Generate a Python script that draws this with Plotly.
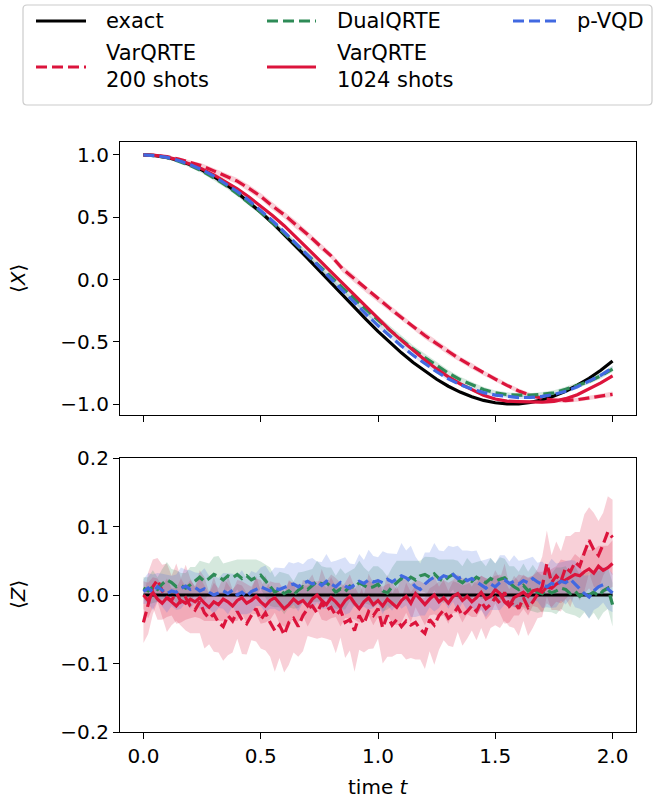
import numpy as np
import plotly.graph_objects as go

# ---------------- data ----------------
# <X>(t) on a 0.05 grid
T_X = [0.00, 0.05, 0.10, 0.15, 0.20, 0.25, 0.30, 0.35, 0.40, 0.45,
       0.50, 0.55, 0.60, 0.65, 0.70, 0.75, 0.80, 0.85, 0.90, 0.95,
       1.00, 1.05, 1.10, 1.15, 1.20, 1.25, 1.30, 1.35, 1.40, 1.45,
       1.50, 1.55, 1.60, 1.65, 1.70, 1.75, 1.80, 1.85, 1.90, 1.95,
       2.00]

X_EXACT = [1.000, 0.995, 0.980, 0.955, 0.921, 0.878, 0.825, 0.765, 0.697, 0.622,
           0.540, 0.454, 0.362, 0.267, 0.170, 0.071, -0.029, -0.129, -0.227, -0.323,
           -0.416, -0.505, -0.589, -0.666, -0.737, -0.801, -0.857, -0.904, -0.942, -0.971,
           -0.990, -0.999, -0.998, -0.987, -0.967, -0.936, -0.897, -0.849, -0.793, -0.729,
           -0.654]

X_VAR200 = [1.000, 0.997, 0.986, 0.967, 0.940, 0.912, 0.872, 0.831, 0.790, 0.731,
            0.668, 0.590, 0.520, 0.440, 0.362, 0.275, 0.190, 0.083, 0.005, -0.080,
            -0.155, -0.230, -0.305, -0.380, -0.450, -0.515, -0.580, -0.640, -0.695, -0.750,
            -0.800, -0.850, -0.895, -0.930, -0.955, -0.968, -0.972, -0.965, -0.950, -0.935,
            -0.922]

X_DUAL = [1.000, 0.995, 0.978, 0.950, 0.914, 0.870, 0.817, 0.757, 0.689, 0.616,
          0.540, 0.458, 0.372, 0.287, 0.200, 0.111, 0.021, -0.069, -0.157, -0.243,
          -0.326, -0.407, -0.484, -0.559, -0.627, -0.693, -0.752, -0.804, -0.847, -0.884,
          -0.910, -0.924, -0.928, -0.929, -0.922, -0.910, -0.882, -0.849, -0.818, -0.773,
          -0.719]

X_VAR1024 = [1.000, 0.996, 0.982, 0.959, 0.926, 0.888, 0.840, 0.787, 0.727, 0.662,
             0.590, 0.514, 0.432, 0.342, 0.250, 0.156, 0.061, -0.034, -0.127, -0.223,
             -0.316, -0.405, -0.489, -0.571, -0.647, -0.718, -0.782, -0.837, -0.887, -0.930,
             -0.960, -0.977, -0.980, -0.982, -0.985, -0.978, -0.957, -0.925, -0.878, -0.830,
             -0.774]

X_PVQD = [1.000, 0.995, 0.980, 0.955, 0.921, 0.881, 0.830, 0.772, 0.707, 0.634,
          0.555, 0.472, 0.382, 0.290, 0.196, 0.101, 0.004, -0.093, -0.187, -0.280,
          -0.370, -0.455, -0.534, -0.608, -0.677, -0.741, -0.797, -0.844, -0.880, -0.908,
          -0.928, -0.941, -0.948, -0.947, -0.939, -0.923, -0.897, -0.861, -0.818, -0.769,
          -0.709]

# half-widths of the shaded spread around each <X> curve
XB_VAR200 = [0.000, 0.004, 0.008, 0.012, 0.016, 0.020, 0.022, 0.026, 0.024, 0.028,
             0.026, 0.030, 0.028, 0.032, 0.026, 0.030, 0.024, 0.028, 0.030, 0.026,
             0.028, 0.024, 0.026, 0.022, 0.028, 0.024, 0.026, 0.022, 0.024, 0.020,
             0.022, 0.018, 0.020, 0.018, 0.016, 0.020, 0.018, 0.016, 0.020, 0.018,
             0.022]
XB_DUAL = [0.000, 0.004, 0.008, 0.012, 0.014, 0.016, 0.018, 0.020, 0.020, 0.022,
           0.022, 0.024, 0.026, 0.026, 0.028, 0.030, 0.030, 0.032, 0.032, 0.034,
           0.034, 0.032, 0.034, 0.030, 0.030, 0.028, 0.026, 0.024, 0.022, 0.020,
           0.018, 0.018, 0.016, 0.016, 0.018, 0.020, 0.020, 0.022, 0.022, 0.024,
           0.024]
XB_VAR1024 = [0.000, 0.002, 0.004, 0.006, 0.008, 0.008, 0.010, 0.010, 0.012, 0.010,
              0.012, 0.012, 0.010, 0.012, 0.014, 0.012, 0.012, 0.014, 0.012, 0.014,
              0.012, 0.012, 0.014, 0.012, 0.012, 0.010, 0.012, 0.012, 0.010, 0.012,
              0.010, 0.012, 0.012, 0.014, 0.012, 0.014, 0.012, 0.014, 0.014, 0.012,
              0.014]
XB_PVQD = [0.000, 0.002, 0.004, 0.004, 0.006, 0.006, 0.008, 0.008, 0.010, 0.010,
           0.010, 0.012, 0.012, 0.012, 0.014, 0.014, 0.014, 0.016, 0.016, 0.016,
           0.016, 0.016, 0.016, 0.014, 0.014, 0.014, 0.014, 0.012, 0.012, 0.012,
           0.012, 0.012, 0.012, 0.014, 0.014, 0.014, 0.016, 0.016, 0.016, 0.016,
           0.016]

# <Z>(t) on a 0.02 grid
T_Z = [0.00, 0.02, 0.04, 0.06, 0.08, 0.10, 0.12, 0.14, 0.16, 0.18,
       0.20, 0.22, 0.24, 0.26, 0.28, 0.30, 0.32, 0.34, 0.36, 0.38,
       0.40, 0.42, 0.44, 0.46, 0.48, 0.50, 0.52, 0.54, 0.56, 0.58,
       0.60, 0.62, 0.64, 0.66, 0.68, 0.70, 0.72, 0.74, 0.76, 0.78,
       0.80, 0.82, 0.84, 0.86, 0.88, 0.90, 0.92, 0.94, 0.96, 0.98,
       1.00, 1.02, 1.04, 1.06, 1.08, 1.10, 1.12, 1.14, 1.16, 1.18,
       1.20, 1.22, 1.24, 1.26, 1.28, 1.30, 1.32, 1.34, 1.36, 1.38,
       1.40, 1.42, 1.44, 1.46, 1.48, 1.50, 1.52, 1.54, 1.56, 1.58,
       1.60, 1.62, 1.64, 1.66, 1.68, 1.70, 1.72, 1.74, 1.76, 1.78,
       1.80, 1.82, 1.84, 1.86, 1.88, 1.90, 1.92, 1.94, 1.96, 1.98,
       2.00]

T_Z_EXACT = [0.0, 2.0]
Z_EXACT = [0.0, 0.0]

Z_VAR200 = [-0.040, -0.012, 0.012, 0.022, 0.006, -0.004, -0.008, 0.004, -0.010, -0.004,
            -0.016, -0.022, -0.010, -0.026, -0.034, -0.028, -0.040, -0.046, -0.030, -0.038,
            -0.024, -0.036, -0.042, -0.030, -0.020, -0.036, -0.026, -0.040, -0.052, -0.044,
            -0.058, -0.040, -0.034, -0.046, -0.030, -0.020, -0.016, -0.026, -0.012, -0.022,
            -0.018, -0.030, -0.022, -0.040, -0.036, -0.052, -0.030, -0.042, -0.024, -0.030,
            -0.020, -0.048, -0.030, -0.044, -0.036, -0.046, -0.038, -0.044, -0.040, -0.050,
            -0.056, -0.036, -0.044, -0.030, -0.022, -0.034, -0.028, -0.018, -0.030, -0.024,
            -0.016, -0.024, -0.010, -0.020, -0.014, -0.004, -0.012, 0.004, -0.016, -0.010,
            -0.020, -0.004, -0.018, -0.010, 0.002, 0.012, 0.046, 0.018, 0.028, 0.020,
            0.040, 0.034, 0.048, 0.042, 0.062, 0.080, 0.066, 0.058, 0.074, 0.092,
            0.084]

Z_DUAL = [0.010, 0.006, 0.012, 0.008, 0.016, 0.022, 0.018, 0.012, 0.014, 0.010,
          0.015, 0.021, 0.026, 0.020, 0.024, 0.030, 0.027, 0.022, 0.028, 0.025,
          0.030, 0.024, 0.028, 0.022, 0.026, 0.029, 0.021, 0.012, 0.004, 0.008,
          0.002, 0.006, 0.000, 0.007, 0.012, 0.008, 0.014, 0.020, 0.016, 0.018,
          0.012, 0.004, 0.009, 0.005, 0.013, 0.011, 0.018, 0.014, 0.010, 0.012,
          0.016, 0.006, 0.003, 0.012, 0.018, 0.024, 0.020, 0.026, 0.022, 0.028,
          0.030, 0.026, 0.031, 0.024, 0.020, 0.026, 0.030, 0.022, 0.018, 0.024,
          0.020, 0.026, 0.022, 0.018, 0.024, 0.020, 0.023, 0.025, 0.018, 0.012,
          0.008, 0.014, 0.006, 0.010, 0.004, 0.002, 0.008, 0.003, 0.006, 0.010,
          0.008, 0.002, 0.006, -0.002, 0.003, 0.000, 0.004, -0.001, 0.006, 0.010,
          -0.014]

Z_VAR1024 = [0.000, -0.008, 0.004, -0.006, -0.012, -0.004, -0.010, -0.016, -0.008, -0.012,
             -0.006, -0.010, -0.004, -0.012, -0.018, -0.010, -0.014, -0.006, -0.010, -0.016,
             -0.008, -0.004, -0.012, -0.008, -0.002, -0.010, -0.016, -0.008, -0.004, -0.012,
             -0.020, -0.014, -0.006, -0.012, -0.008, -0.016, -0.006, 0.000, -0.008, -0.014,
             -0.004, -0.010, -0.018, -0.008, -0.002, -0.012, -0.020, -0.010, -0.004, -0.014,
             -0.008, -0.016, -0.006, -0.012, -0.018, -0.008, -0.002, -0.012, 0.002, -0.006,
             -0.014, -0.006, 0.000, -0.010, -0.004, -0.012, -0.002, 0.002, -0.008, -0.002,
             -0.010, -0.004, 0.004, -0.006, -0.002, 0.008, 0.002, -0.010, -0.016, -0.004,
             0.000, 0.004, -0.002, 0.006, 0.008, 0.004, 0.012, 0.010, 0.016, 0.020,
             0.022, 0.026, 0.030, 0.028, 0.034, 0.038, 0.032, 0.042, 0.036, 0.040,
             0.046]

Z_PVQD = [0.005, 0.010, 0.004, 0.012, 0.007, 0.002, 0.006, 0.004, 0.010, 0.013,
          0.008, 0.011, 0.006, 0.009, 0.004, 0.000, 0.003, 0.006, 0.002, 0.007,
          0.000, 0.004, -0.002, 0.005, 0.008, 0.012, 0.009, 0.006, 0.010, 0.008,
          0.011, 0.014, 0.016, 0.012, 0.017, 0.020, 0.016, 0.019, 0.014, 0.020,
          0.016, 0.012, 0.018, 0.013, 0.010, 0.015, 0.020, 0.017, 0.022, 0.019,
          0.021, 0.018, 0.023, 0.019, 0.024, 0.028, 0.025, 0.020, 0.012, 0.008,
          0.016, 0.022, 0.026, 0.023, 0.028, 0.026, 0.030, 0.024, 0.027, 0.021,
          0.024, 0.019, 0.014, 0.010, 0.016, 0.012, 0.018, 0.022, 0.017, 0.020,
          0.016, 0.021, 0.018, 0.024, 0.019, 0.015, 0.012, 0.017, 0.014, 0.020,
          0.018, 0.023, 0.016, 0.010, 0.002, -0.003, 0.006, 0.012, 0.015, 0.009,
          0.003]

# half-widths of the shaded spread around each <Z> curve
ZB_VAR200 = [0.030, 0.045, 0.040, 0.032, 0.038, 0.050, 0.036, 0.042, 0.035, 0.048,
             0.040, 0.034, 0.046, 0.052, 0.038, 0.055, 0.044, 0.050, 0.058, 0.046,
             0.040, 0.050, 0.045, 0.036, 0.048, 0.042, 0.055, 0.050, 0.060, 0.048,
             0.055, 0.062, 0.050, 0.044, 0.052, 0.040, 0.046, 0.038, 0.050, 0.042,
             0.048, 0.055, 0.040, 0.052, 0.045, 0.060, 0.050, 0.042, 0.055, 0.048,
             0.044, 0.052, 0.060, 0.046, 0.050, 0.040, 0.056, 0.048, 0.054, 0.044,
             0.052, 0.046, 0.058, 0.050, 0.044, 0.040, 0.048, 0.036, 0.044, 0.040,
             0.036, 0.042, 0.038, 0.045, 0.034, 0.040, 0.036, 0.042, 0.030, 0.038,
             0.040, 0.034, 0.042, 0.038, 0.036, 0.044, 0.048, 0.040, 0.050, 0.044,
             0.046, 0.052, 0.044, 0.050, 0.056, 0.048, 0.054, 0.050, 0.046, 0.052,
             0.055]

ZB_DUAL = [0.016, 0.020, 0.024, 0.018, 0.022, 0.026, 0.020, 0.024, 0.018, 0.022,
           0.026, 0.020, 0.024, 0.028, 0.022, 0.026, 0.030, 0.024, 0.020, 0.026,
           0.022, 0.028, 0.024, 0.030, 0.026, 0.020, 0.024, 0.028, 0.022, 0.026,
           0.030, 0.024, 0.020, 0.026, 0.022, 0.028, 0.024, 0.030, 0.026, 0.022,
           0.028, 0.024, 0.030, 0.026, 0.022, 0.028, 0.032, 0.026, 0.024, 0.030,
           0.026, 0.030, 0.024, 0.028, 0.032, 0.026, 0.030, 0.024, 0.028, 0.022,
           0.026, 0.030, 0.024, 0.028, 0.032, 0.026, 0.022, 0.028, 0.024, 0.030,
           0.026, 0.022, 0.028, 0.024, 0.030, 0.026, 0.032, 0.028, 0.024, 0.030,
           0.026, 0.032, 0.028, 0.034, 0.030, 0.026, 0.032, 0.028, 0.034, 0.030,
           0.034, 0.030, 0.036, 0.032, 0.028, 0.034, 0.030, 0.036, 0.032, 0.030,
           0.032]

ZB_VAR1024 = [0.020, 0.026, 0.022, 0.030, 0.024, 0.028, 0.020, 0.026, 0.032, 0.024,
              0.028, 0.022, 0.030, 0.026, 0.020, 0.028, 0.024, 0.032, 0.026, 0.022,
              0.030, 0.024, 0.028, 0.020, 0.026, 0.032, 0.024, 0.028, 0.022, 0.030,
              0.026, 0.034, 0.024, 0.028, 0.022, 0.030, 0.026, 0.020, 0.028, 0.024,
              0.030, 0.022, 0.028, 0.026, 0.032, 0.024, 0.020, 0.028, 0.026, 0.030,
              0.024, 0.028, 0.022, 0.030, 0.026, 0.032, 0.024, 0.028, 0.020, 0.026,
              0.030, 0.024, 0.028, 0.022, 0.026, 0.030, 0.024, 0.028, 0.032, 0.026,
              0.022, 0.028, 0.024, 0.030, 0.026, 0.020, 0.028, 0.032, 0.024, 0.026,
              0.030, 0.024, 0.028, 0.022, 0.026, 0.030, 0.024, 0.028, 0.026, 0.032,
              0.028, 0.024, 0.030, 0.026, 0.032, 0.028, 0.034, 0.030, 0.036, 0.032,
              0.034]

ZB_PVQD = [0.018, 0.022, 0.026, 0.020, 0.024, 0.028, 0.022, 0.026, 0.030, 0.024,
           0.028, 0.022, 0.026, 0.030, 0.024, 0.028, 0.022, 0.026, 0.030, 0.024,
           0.028, 0.032, 0.026, 0.030, 0.024, 0.028, 0.034, 0.026, 0.030, 0.032,
           0.028, 0.034, 0.030, 0.036, 0.028, 0.032, 0.038, 0.030, 0.034, 0.040,
           0.032, 0.038, 0.034, 0.042, 0.036, 0.030, 0.040, 0.034, 0.044, 0.038,
           0.034, 0.046, 0.038, 0.042, 0.036, 0.048, 0.040, 0.052, 0.044, 0.038,
           0.046, 0.040, 0.050, 0.042, 0.036, 0.046, 0.040, 0.048, 0.038, 0.044,
           0.040, 0.046, 0.036, 0.042, 0.038, 0.034, 0.040, 0.036, 0.032, 0.038,
           0.034, 0.030, 0.036, 0.032, 0.028, 0.034, 0.030, 0.036, 0.032, 0.028,
           0.032, 0.028, 0.034, 0.030, 0.026, 0.032, 0.028, 0.030, 0.026, 0.030,
           0.028]

X_TICKS = [0.0, 0.5, 1.0, 1.5, 2.0]
X_TICK_LABELS = ["0.0", "0.5", "1.0", "1.5", "2.0"]
TOP_Y_TICKS = [-1.0, -0.5, 0.0, 0.5, 1.0]
BOT_Y_TICKS = [-0.2, -0.1, 0.0, 0.1, 0.2]

# ---------------- styles ----------------
CRIMSON = "#DC143C"
GREEN = "#2E8B57"
BLUE = "#4169E1"
DASH = "11px,5px"
LINE_W = 3.2
FONT = "DejaVu Sans"

# legend order: exact, VarQRTE 200, DualQRTE, VarQRTE 1024, p-VQD
SERIES = [
    dict(key="exact", label="exact", color="black", dash="solid",
         x=(T_X, X_EXACT, None), z=(T_Z_EXACT, Z_EXACT, None)),
    dict(key="var200", label="VarQRTE<br>200 shots", color=CRIMSON, dash=DASH,
         x=(T_X, X_VAR200, XB_VAR200), z=(T_Z, Z_VAR200, ZB_VAR200)),
    dict(key="dual", label="DualQRTE", color=GREEN, dash=DASH,
         x=(T_X, X_DUAL, XB_DUAL), z=(T_Z, Z_DUAL, ZB_DUAL)),
    dict(key="var1024", label="VarQRTE<br>1024 shots", color=CRIMSON, dash="solid",
         x=(T_X, X_VAR1024, XB_VAR1024), z=(T_Z, Z_VAR1024, ZB_VAR1024)),
    dict(key="pvqd", label="p-VQD", color=BLUE, dash=DASH,
         x=(T_X, X_PVQD, XB_PVQD), z=(T_Z, Z_PVQD, ZB_PVQD)),
]

for s in SERIES:
    for t, m, hw in (s["x"], s["z"]):
        assert len(t) == len(m), s["key"]
        if hw is not None:
            assert len(hw) == len(m), s["key"]


def rgba(hex_color, alpha):
    h = hex_color.lstrip("#")
    r, g, b = int(h[0:2], 16), int(h[2:4], 16), int(h[4:6], 16)
    return f"rgba({r},{g},{b},{alpha})"


fig = go.Figure()

# shaded spreads first, so that every line sits on top of them
for s in SERIES:
    for (t, m, hw), (xa, ya) in ((s["x"], ("x", "y")), (s["z"], ("x2", "y2"))):
        if hw is None:
            continue
        t = np.asarray(t, dtype=float)
        m = np.asarray(m, dtype=float)
        hw = np.asarray(hw, dtype=float)
        fig.add_trace(go.Scatter(
            x=np.concatenate([t, t[::-1]]),
            y=np.concatenate([m + hw, (m - hw)[::-1]]),
            fill="toself", fillcolor=rgba(s["color"], 0.2),
            line=dict(width=0), mode="lines", hoverinfo="skip",
            showlegend=False, xaxis=xa, yaxis=ya,
        ))

for s in SERIES:
    for (t, m, hw), (xa, ya) in ((s["x"], ("x", "y")), (s["z"], ("x2", "y2"))):
        fig.add_trace(go.Scatter(
            x=t, y=m, mode="lines", name=s["label"].replace("<br>", " "),
            line=dict(color=s["color"], width=LINE_W, dash=s["dash"]),
            showlegend=False, xaxis=xa, yaxis=ya,
        ))

# ---------------- layout ----------------
W, H = 664, 802
ML, MR, MT, MB = 120, 28, 142, 70
PW, PH = W - ML - MR, H - MT - MB


def px_x(px):
    return (px - ML) / PW


def px_y(py):
    return (H - MB - py) / PH


axis_common = dict(
    showline=True, mirror=True, linecolor="black", linewidth=1.2,
    ticks="outside", ticklen=6, tickwidth=1.2, tickcolor="black",
    showgrid=False, zeroline=False,
    tickfont=dict(family=FONT, size=20, color="black"),
)

fig.update_layout(
    width=W, height=H,
    margin=dict(l=ML, r=MR, t=MT, b=MB, pad=0),
    paper_bgcolor="white", plot_bgcolor="white",
    font=dict(family=FONT, size=20, color="black"),
    showlegend=False,
    xaxis=dict(domain=[0, 1], anchor="y", range=[-0.1, 2.1],
               tickvals=X_TICKS, showticklabels=False, **axis_common),
    yaxis=dict(domain=[px_y(415), 1], anchor="x", range=[-1.088, 1.104],
               tickvals=TOP_Y_TICKS, tickformat=".1f", **axis_common),
    xaxis2=dict(domain=[0, 1], anchor="y2", range=[-0.1, 2.1],
                tickvals=X_TICKS, ticktext=X_TICK_LABELS, matches="x", **axis_common),
    yaxis2=dict(domain=[0, px_y(458)], anchor="x2", range=[-0.2, 0.2],
                tickvals=BOT_Y_TICKS, tickformat=".1f", **axis_common),
)

annotations = [
    dict(text="⟨<i>X</i>⟩", x=px_x(18), y=px_y(279), textangle=-90),
    dict(text="⟨<i>Z</i>⟩", x=px_x(18), y=px_y(595), textangle=-90),
    dict(text="time <i>t</i>", x=px_x(378), y=px_y(787)),
]
for a in annotations:
    a.update(xref="paper", yref="paper", showarrow=False,
             xanchor="center", yanchor="middle",
             font=dict(family=FONT, size=20, color="black"))

# legend frame, drawn as a rounded box in paper coordinates
x0, x1, y0, y1 = px_x(23), px_x(652), px_y(105), px_y(5)
rx, ry = 4 / PW, 4 / PH
frame = (f"M {x0 + rx},{y0} L {x1 - rx},{y0} Q {x1},{y0} {x1},{y0 + ry} "
         f"L {x1},{y1 - ry} Q {x1},{y1} {x1 - rx},{y1} "
         f"L {x0 + rx},{y1} Q {x0},{y1} {x0},{y1 - ry} "
         f"L {x0},{y0 + ry} Q {x0},{y0} {x0 + rx},{y0} Z")
shapes = [dict(type="path", path=frame, xref="paper", yref="paper",
               fillcolor="rgba(255,255,255,0.8)", line=dict(color="#cccccc", width=1.2),
               layer="above")]

# legend entries: column-major, three columns
COL_LINE_X = [(36, 86), (267, 316), (513, 561)]
COL_TEXT_X = [104, 335, 575]
ROW_Y = [21, 67]
for i, s in enumerate(SERIES):
    col, row = i // 2, i % 2
    if col == 2:
        row = 0
    lx0, lx1 = COL_LINE_X[col]
    yy = ROW_Y[row]
    shapes.append(dict(type="line", xref="paper", yref="paper",
                       x0=px_x(lx0), x1=px_x(lx1), y0=px_y(yy), y1=px_y(yy),
                       line=dict(color=s["color"], width=LINE_W, dash=s["dash"]),
                       layer="above"))
    annotations.append(dict(text=s["label"], xref="paper", yref="paper",
                            x=px_x(COL_TEXT_X[col]), y=px_y(yy), showarrow=False,
                            xanchor="left", yanchor="middle", align="left",
                            font=dict(family=FONT, size=21, color="black")))

fig.update_layout(shapes=shapes, annotations=annotations)

fig.write_html("out.html")
